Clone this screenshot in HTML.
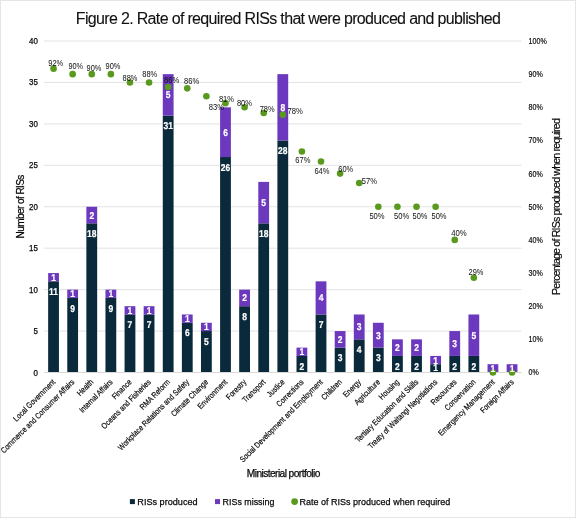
<!DOCTYPE html><html><head><meta charset="utf-8"><style>html,body{margin:0;padding:0;background:#fff;}svg{display:block;will-change:transform;}text{font-family:"Liberation Sans",sans-serif;} .g{text-rendering:geometricPrecision;stroke:#fff;stroke-width:0.2px;} .s{stroke:#000;stroke-width:0.25px;} .t{stroke:#000;stroke-width:0.18px;} .u{stroke:#000;stroke-width:0.08px;}</style></head><body>
<svg width="576" height="518" viewBox="0 0 576 518">
<rect x="0" y="0" width="576" height="518" fill="#fff"/>
<rect x="0.5" y="0.5" width="575" height="517" fill="none" stroke="#E6E5E3" stroke-width="1"/>
<text x="75.8" y="23.75" font-size="16" class="u" fill="#111" textLength="425" lengthAdjust="spacing">Figure 2. Rate of required RISs that were produced and published</text>
<rect x="44.0" y="372.00" width="477.60" height="1" fill="#D9D9D9"/>
<text x="37.9" y="375.50" font-size="8.4" text-anchor="end" class="s" fill="#0D0D0D" textLength="4.39" lengthAdjust="spacingAndGlyphs">0</text>
<rect x="44.0" y="330.56" width="477.60" height="1" fill="#E3E3E3"/>
<text x="37.9" y="334.06" font-size="8.4" text-anchor="end" class="s" fill="#0D0D0D" textLength="4.39" lengthAdjust="spacingAndGlyphs">5</text>
<rect x="44.0" y="289.12" width="477.60" height="1" fill="#E3E3E3"/>
<text x="37.9" y="292.62" font-size="8.4" text-anchor="end" class="s" fill="#0D0D0D" textLength="8.78" lengthAdjust="spacingAndGlyphs">10</text>
<rect x="44.0" y="247.69" width="477.60" height="1" fill="#E3E3E3"/>
<text x="37.9" y="251.19" font-size="8.4" text-anchor="end" class="s" fill="#0D0D0D" textLength="8.78" lengthAdjust="spacingAndGlyphs">15</text>
<rect x="44.0" y="206.25" width="477.60" height="1" fill="#E3E3E3"/>
<text x="37.9" y="209.75" font-size="8.4" text-anchor="end" class="s" fill="#0D0D0D" textLength="8.78" lengthAdjust="spacingAndGlyphs">20</text>
<rect x="44.0" y="164.81" width="477.60" height="1" fill="#E3E3E3"/>
<text x="37.9" y="168.31" font-size="8.4" text-anchor="end" class="s" fill="#0D0D0D" textLength="8.78" lengthAdjust="spacingAndGlyphs">25</text>
<rect x="44.0" y="123.38" width="477.60" height="1" fill="#E3E3E3"/>
<text x="37.9" y="126.88" font-size="8.4" text-anchor="end" class="s" fill="#0D0D0D" textLength="8.78" lengthAdjust="spacingAndGlyphs">30</text>
<rect x="44.0" y="81.94" width="477.60" height="1" fill="#E3E3E3"/>
<text x="37.9" y="85.44" font-size="8.4" text-anchor="end" class="s" fill="#0D0D0D" textLength="8.78" lengthAdjust="spacingAndGlyphs">35</text>
<rect x="44.0" y="40.50" width="477.60" height="1" fill="#E3E3E3"/>
<text x="37.9" y="44.00" font-size="8.4" text-anchor="end" class="s" fill="#0D0D0D" textLength="8.78" lengthAdjust="spacingAndGlyphs">40</text>
<text x="528.6" y="375.40" font-size="8.4" class="t" fill="#0D0D0D" textLength="10.26" lengthAdjust="spacingAndGlyphs">0%</text>
<text x="528.6" y="342.25" font-size="8.4" class="t" fill="#0D0D0D" textLength="14.21" lengthAdjust="spacingAndGlyphs">10%</text>
<text x="528.6" y="309.10" font-size="8.4" class="t" fill="#0D0D0D" textLength="14.21" lengthAdjust="spacingAndGlyphs">20%</text>
<text x="528.6" y="275.95" font-size="8.4" class="t" fill="#0D0D0D" textLength="14.21" lengthAdjust="spacingAndGlyphs">30%</text>
<text x="528.6" y="242.80" font-size="8.4" class="t" fill="#0D0D0D" textLength="14.21" lengthAdjust="spacingAndGlyphs">40%</text>
<text x="528.6" y="209.65" font-size="8.4" class="t" fill="#0D0D0D" textLength="14.21" lengthAdjust="spacingAndGlyphs">50%</text>
<text x="528.6" y="176.50" font-size="8.4" class="t" fill="#0D0D0D" textLength="14.21" lengthAdjust="spacingAndGlyphs">60%</text>
<text x="528.6" y="143.35" font-size="8.4" class="t" fill="#0D0D0D" textLength="14.21" lengthAdjust="spacingAndGlyphs">70%</text>
<text x="528.6" y="110.20" font-size="8.4" class="t" fill="#0D0D0D" textLength="14.21" lengthAdjust="spacingAndGlyphs">80%</text>
<text x="528.6" y="77.05" font-size="8.4" class="t" fill="#0D0D0D" textLength="14.21" lengthAdjust="spacingAndGlyphs">90%</text>
<text x="528.6" y="43.90" font-size="8.4" class="t" fill="#0D0D0D" textLength="18.16" lengthAdjust="spacingAndGlyphs">100%</text>
<rect x="48.15" y="281.34" width="10.8" height="90.66" fill="#0A2A3C"/>
<rect x="48.15" y="273.05" width="10.8" height="8.29" fill="#6C38BE"/>
<rect x="67.26" y="297.91" width="10.8" height="74.09" fill="#0A2A3C"/>
<rect x="67.26" y="289.62" width="10.8" height="8.29" fill="#6C38BE"/>
<rect x="86.36" y="223.33" width="10.8" height="148.67" fill="#0A2A3C"/>
<rect x="86.36" y="206.75" width="10.8" height="16.58" fill="#6C38BE"/>
<rect x="105.46" y="297.91" width="10.8" height="74.09" fill="#0A2A3C"/>
<rect x="105.46" y="289.62" width="10.8" height="8.29" fill="#6C38BE"/>
<rect x="124.57" y="314.49" width="10.8" height="57.51" fill="#0A2A3C"/>
<rect x="124.57" y="306.20" width="10.8" height="8.29" fill="#6C38BE"/>
<rect x="143.67" y="314.49" width="10.8" height="57.51" fill="#0A2A3C"/>
<rect x="143.67" y="306.20" width="10.8" height="8.29" fill="#6C38BE"/>
<rect x="162.78" y="115.59" width="10.8" height="256.41" fill="#0A2A3C"/>
<rect x="162.78" y="74.15" width="10.8" height="41.44" fill="#6C38BE"/>
<rect x="181.88" y="322.77" width="10.8" height="49.23" fill="#0A2A3C"/>
<rect x="181.88" y="314.49" width="10.8" height="8.29" fill="#6C38BE"/>
<rect x="200.98" y="331.06" width="10.8" height="40.94" fill="#0A2A3C"/>
<rect x="200.98" y="322.77" width="10.8" height="8.29" fill="#6C38BE"/>
<rect x="220.09" y="157.03" width="10.8" height="214.97" fill="#0A2A3C"/>
<rect x="220.09" y="107.30" width="10.8" height="49.72" fill="#6C38BE"/>
<rect x="239.19" y="306.20" width="10.8" height="65.80" fill="#0A2A3C"/>
<rect x="239.19" y="289.62" width="10.8" height="16.57" fill="#6C38BE"/>
<rect x="258.30" y="223.33" width="10.8" height="148.67" fill="#0A2A3C"/>
<rect x="258.30" y="181.89" width="10.8" height="41.44" fill="#6C38BE"/>
<rect x="277.40" y="140.45" width="10.8" height="231.55" fill="#0A2A3C"/>
<rect x="277.40" y="74.15" width="10.8" height="66.30" fill="#6C38BE"/>
<rect x="296.50" y="355.93" width="10.8" height="16.07" fill="#0A2A3C"/>
<rect x="296.50" y="347.64" width="10.8" height="8.29" fill="#6C38BE"/>
<rect x="315.61" y="314.49" width="10.8" height="57.51" fill="#0A2A3C"/>
<rect x="315.61" y="281.34" width="10.8" height="33.15" fill="#6C38BE"/>
<rect x="334.71" y="347.64" width="10.8" height="24.36" fill="#0A2A3C"/>
<rect x="334.71" y="331.06" width="10.8" height="16.57" fill="#6C38BE"/>
<rect x="353.82" y="339.35" width="10.8" height="32.65" fill="#0A2A3C"/>
<rect x="353.82" y="314.49" width="10.8" height="24.86" fill="#6C38BE"/>
<rect x="372.92" y="347.64" width="10.8" height="24.36" fill="#0A2A3C"/>
<rect x="372.92" y="322.77" width="10.8" height="24.86" fill="#6C38BE"/>
<rect x="392.02" y="355.93" width="10.8" height="16.07" fill="#0A2A3C"/>
<rect x="392.02" y="339.35" width="10.8" height="16.57" fill="#6C38BE"/>
<rect x="411.13" y="355.93" width="10.8" height="16.07" fill="#0A2A3C"/>
<rect x="411.13" y="339.35" width="10.8" height="16.57" fill="#6C38BE"/>
<rect x="430.23" y="364.21" width="10.8" height="7.79" fill="#0A2A3C"/>
<rect x="430.23" y="355.93" width="10.8" height="8.29" fill="#6C38BE"/>
<rect x="449.34" y="355.93" width="10.8" height="16.07" fill="#0A2A3C"/>
<rect x="449.34" y="331.06" width="10.8" height="24.86" fill="#6C38BE"/>
<rect x="468.44" y="355.93" width="10.8" height="16.07" fill="#0A2A3C"/>
<rect x="468.44" y="314.49" width="10.8" height="41.44" fill="#6C38BE"/>
<rect x="487.54" y="364.21" width="10.8" height="7.79" fill="#6C38BE"/>
<rect x="506.65" y="364.21" width="10.8" height="7.79" fill="#6C38BE"/>
<rect x="44.0" y="372.0" width="477.60" height="1" fill="#DCDAD6"/>
<circle cx="53.55" cy="68.63" r="3.3" fill="#599A1E"/>
<circle cx="72.66" cy="74.15" r="3.3" fill="#599A1E"/>
<circle cx="91.76" cy="74.15" r="3.3" fill="#599A1E"/>
<circle cx="110.86" cy="74.15" r="3.3" fill="#599A1E"/>
<circle cx="129.97" cy="82.44" r="3.3" fill="#599A1E"/>
<circle cx="149.07" cy="82.44" r="3.3" fill="#599A1E"/>
<circle cx="168.18" cy="87.04" r="3.3" fill="#599A1E"/>
<circle cx="187.28" cy="88.36" r="3.3" fill="#599A1E"/>
<circle cx="206.38" cy="96.25" r="3.3" fill="#599A1E"/>
<circle cx="225.49" cy="103.16" r="3.3" fill="#599A1E"/>
<circle cx="244.59" cy="107.30" r="3.3" fill="#599A1E"/>
<circle cx="263.70" cy="113.07" r="3.3" fill="#599A1E"/>
<circle cx="282.80" cy="114.67" r="3.3" fill="#599A1E"/>
<circle cx="301.90" cy="151.50" r="3.3" fill="#599A1E"/>
<circle cx="321.01" cy="161.55" r="3.3" fill="#599A1E"/>
<circle cx="340.11" cy="173.60" r="3.3" fill="#599A1E"/>
<circle cx="359.22" cy="183.07" r="3.3" fill="#599A1E"/>
<circle cx="378.32" cy="206.75" r="3.3" fill="#599A1E"/>
<circle cx="397.42" cy="206.75" r="3.3" fill="#599A1E"/>
<circle cx="416.53" cy="206.75" r="3.3" fill="#599A1E"/>
<circle cx="435.63" cy="206.75" r="3.3" fill="#599A1E"/>
<circle cx="454.74" cy="239.90" r="3.3" fill="#599A1E"/>
<circle cx="473.84" cy="277.79" r="3.3" fill="#599A1E"/>
<circle cx="492.94" cy="372.50" r="3.3" fill="#599A1E"/>
<circle cx="512.05" cy="372.50" r="3.3" fill="#599A1E"/>
<text x="0" y="0" transform="translate(53.55 294.94) scale(0.86 1)" font-size="9.9" font-weight="bold" class="g" text-anchor="middle" fill="#fff">11</text>
<text x="0" y="0" transform="translate(53.55 280.69) scale(0.86 1)" font-size="9.9" font-weight="bold" class="g" text-anchor="middle" fill="#fff">1</text>
<text x="0" y="0" transform="translate(72.66 311.51) scale(0.86 1)" font-size="9.9" font-weight="bold" class="g" text-anchor="middle" fill="#fff">9</text>
<text x="0" y="0" transform="translate(72.66 297.27) scale(0.86 1)" font-size="9.9" font-weight="bold" class="g" text-anchor="middle" fill="#fff">1</text>
<text x="0" y="0" transform="translate(91.76 236.93) scale(0.86 1)" font-size="9.9" font-weight="bold" class="g" text-anchor="middle" fill="#fff">18</text>
<text x="0" y="0" transform="translate(91.76 218.54) scale(0.86 1)" font-size="9.9" font-weight="bold" class="g" text-anchor="middle" fill="#fff">2</text>
<text x="0" y="0" transform="translate(110.86 311.51) scale(0.86 1)" font-size="9.9" font-weight="bold" class="g" text-anchor="middle" fill="#fff">9</text>
<text x="0" y="0" transform="translate(110.86 297.27) scale(0.86 1)" font-size="9.9" font-weight="bold" class="g" text-anchor="middle" fill="#fff">1</text>
<text x="0" y="0" transform="translate(129.97 328.09) scale(0.86 1)" font-size="9.9" font-weight="bold" class="g" text-anchor="middle" fill="#fff">7</text>
<text x="0" y="0" transform="translate(129.97 313.84) scale(0.86 1)" font-size="9.9" font-weight="bold" class="g" text-anchor="middle" fill="#fff">1</text>
<text x="0" y="0" transform="translate(149.07 328.09) scale(0.86 1)" font-size="9.9" font-weight="bold" class="g" text-anchor="middle" fill="#fff">7</text>
<text x="0" y="0" transform="translate(149.07 313.84) scale(0.86 1)" font-size="9.9" font-weight="bold" class="g" text-anchor="middle" fill="#fff">1</text>
<text x="0" y="0" transform="translate(168.18 129.19) scale(0.86 1)" font-size="9.9" font-weight="bold" class="g" text-anchor="middle" fill="#fff">31</text>
<text x="0" y="0" transform="translate(168.18 98.37) scale(0.86 1)" font-size="9.9" font-weight="bold" class="g" text-anchor="middle" fill="#fff">5</text>
<text x="0" y="0" transform="translate(187.28 336.38) scale(0.86 1)" font-size="9.9" font-weight="bold" class="g" text-anchor="middle" fill="#fff">6</text>
<text x="0" y="0" transform="translate(187.28 322.13) scale(0.86 1)" font-size="9.9" font-weight="bold" class="g" text-anchor="middle" fill="#fff">1</text>
<text x="0" y="0" transform="translate(206.38 344.66) scale(0.86 1)" font-size="9.9" font-weight="bold" class="g" text-anchor="middle" fill="#fff">5</text>
<text x="0" y="0" transform="translate(206.38 330.42) scale(0.86 1)" font-size="9.9" font-weight="bold" class="g" text-anchor="middle" fill="#fff">1</text>
<text x="0" y="0" transform="translate(225.49 170.62) scale(0.86 1)" font-size="9.9" font-weight="bold" class="g" text-anchor="middle" fill="#fff">26</text>
<text x="0" y="0" transform="translate(225.49 135.66) scale(0.86 1)" font-size="9.9" font-weight="bold" class="g" text-anchor="middle" fill="#fff">6</text>
<text x="0" y="0" transform="translate(244.59 319.80) scale(0.86 1)" font-size="9.9" font-weight="bold" class="g" text-anchor="middle" fill="#fff">8</text>
<text x="0" y="0" transform="translate(244.59 301.41) scale(0.86 1)" font-size="9.9" font-weight="bold" class="g" text-anchor="middle" fill="#fff">2</text>
<text x="0" y="0" transform="translate(263.70 236.93) scale(0.86 1)" font-size="9.9" font-weight="bold" class="g" text-anchor="middle" fill="#fff">18</text>
<text x="0" y="0" transform="translate(263.70 206.11) scale(0.86 1)" font-size="9.9" font-weight="bold" class="g" text-anchor="middle" fill="#fff">5</text>
<text x="0" y="0" transform="translate(282.80 154.05) scale(0.86 1)" font-size="9.9" font-weight="bold" class="g" text-anchor="middle" fill="#fff">28</text>
<text x="0" y="0" transform="translate(282.80 110.80) scale(0.86 1)" font-size="9.9" font-weight="bold" class="g" text-anchor="middle" fill="#fff">8</text>
<text x="0" y="0" transform="translate(301.90 369.53) scale(0.86 1)" font-size="9.9" font-weight="bold" class="g" text-anchor="middle" fill="#fff">2</text>
<text x="0" y="0" transform="translate(301.90 355.28) scale(0.86 1)" font-size="9.9" font-weight="bold" class="g" text-anchor="middle" fill="#fff">1</text>
<text x="0" y="0" transform="translate(321.01 328.09) scale(0.86 1)" font-size="9.9" font-weight="bold" class="g" text-anchor="middle" fill="#fff">7</text>
<text x="0" y="0" transform="translate(321.01 301.41) scale(0.86 1)" font-size="9.9" font-weight="bold" class="g" text-anchor="middle" fill="#fff">4</text>
<text x="0" y="0" transform="translate(340.11 361.24) scale(0.86 1)" font-size="9.9" font-weight="bold" class="g" text-anchor="middle" fill="#fff">3</text>
<text x="0" y="0" transform="translate(340.11 342.85) scale(0.86 1)" font-size="9.9" font-weight="bold" class="g" text-anchor="middle" fill="#fff">2</text>
<text x="0" y="0" transform="translate(359.22 352.95) scale(0.86 1)" font-size="9.9" font-weight="bold" class="g" text-anchor="middle" fill="#fff">4</text>
<text x="0" y="0" transform="translate(359.22 330.42) scale(0.86 1)" font-size="9.9" font-weight="bold" class="g" text-anchor="middle" fill="#fff">3</text>
<text x="0" y="0" transform="translate(378.32 361.24) scale(0.86 1)" font-size="9.9" font-weight="bold" class="g" text-anchor="middle" fill="#fff">3</text>
<text x="0" y="0" transform="translate(378.32 338.71) scale(0.86 1)" font-size="9.9" font-weight="bold" class="g" text-anchor="middle" fill="#fff">3</text>
<text x="0" y="0" transform="translate(397.42 369.53) scale(0.86 1)" font-size="9.9" font-weight="bold" class="g" text-anchor="middle" fill="#fff">2</text>
<text x="0" y="0" transform="translate(397.42 351.14) scale(0.86 1)" font-size="9.9" font-weight="bold" class="g" text-anchor="middle" fill="#fff">2</text>
<text x="0" y="0" transform="translate(416.53 369.53) scale(0.86 1)" font-size="9.9" font-weight="bold" class="g" text-anchor="middle" fill="#fff">2</text>
<text x="0" y="0" transform="translate(416.53 351.14) scale(0.86 1)" font-size="9.9" font-weight="bold" class="g" text-anchor="middle" fill="#fff">2</text>
<text x="0" y="0" transform="translate(435.63 371.46) scale(0.86 1)" font-size="9.9" font-weight="bold" class="g" text-anchor="middle" fill="#fff">1</text>
<text x="0" y="0" transform="translate(435.63 363.57) scale(0.86 1)" font-size="9.9" font-weight="bold" class="g" text-anchor="middle" fill="#fff">1</text>
<text x="0" y="0" transform="translate(454.74 369.53) scale(0.86 1)" font-size="9.9" font-weight="bold" class="g" text-anchor="middle" fill="#fff">2</text>
<text x="0" y="0" transform="translate(454.74 346.99) scale(0.86 1)" font-size="9.9" font-weight="bold" class="g" text-anchor="middle" fill="#fff">3</text>
<text x="0" y="0" transform="translate(473.84 369.53) scale(0.86 1)" font-size="9.9" font-weight="bold" class="g" text-anchor="middle" fill="#fff">2</text>
<text x="0" y="0" transform="translate(473.84 338.71) scale(0.86 1)" font-size="9.9" font-weight="bold" class="g" text-anchor="middle" fill="#fff">5</text>
<text x="0" y="0" transform="translate(492.94 371.86) scale(0.86 1)" font-size="9.9" font-weight="bold" class="g" text-anchor="middle" fill="#fff">1</text>
<text x="0" y="0" transform="translate(512.05 371.86) scale(0.86 1)" font-size="9.9" font-weight="bold" class="g" text-anchor="middle" fill="#fff">1</text>
<text x="48.30" y="65.50" font-size="8.9" fill="#0D0D0D" textLength="14.90" lengthAdjust="spacingAndGlyphs">92%</text>
<text x="68.45" y="69.40" font-size="8.9" fill="#0D0D0D" textLength="14.65" lengthAdjust="spacingAndGlyphs">90%</text>
<text x="86.60" y="71.10" font-size="8.9" fill="#0D0D0D" textLength="14.80" lengthAdjust="spacingAndGlyphs">90%</text>
<text x="105.50" y="69.10" font-size="8.9" fill="#0D0D0D" textLength="14.90" lengthAdjust="spacingAndGlyphs">90%</text>
<text x="122.60" y="80.90" font-size="8.9" fill="#0D0D0D" textLength="14.90" lengthAdjust="spacingAndGlyphs">88%</text>
<text x="142.30" y="76.50" font-size="8.9" fill="#0D0D0D" textLength="14.90" lengthAdjust="spacingAndGlyphs">88%</text>
<text x="164.00" y="83.00" font-size="8.9" fill="#0D0D0D" textLength="15.20" lengthAdjust="spacingAndGlyphs">86%</text>
<text x="184.10" y="83.70" font-size="8.9" fill="#0D0D0D" textLength="15.10" lengthAdjust="spacingAndGlyphs">86%</text>
<text x="208.70" y="109.80" font-size="8.9" fill="#0D0D0D" textLength="15.20" lengthAdjust="spacingAndGlyphs">83%</text>
<text x="218.90" y="101.50" font-size="8.9" fill="#0D0D0D" textLength="15.15" lengthAdjust="spacingAndGlyphs">81%</text>
<text x="236.90" y="105.70" font-size="8.9" fill="#0D0D0D" textLength="15.20" lengthAdjust="spacingAndGlyphs">80%</text>
<text x="259.70" y="111.80" font-size="8.9" fill="#0D0D0D" textLength="14.90" lengthAdjust="spacingAndGlyphs">78%</text>
<text x="287.50" y="114.30" font-size="8.9" fill="#0D0D0D" textLength="15.30" lengthAdjust="spacingAndGlyphs">78%</text>
<text x="295.30" y="162.70" font-size="8.9" fill="#0D0D0D" textLength="15.10" lengthAdjust="spacingAndGlyphs">67%</text>
<text x="314.40" y="174.10" font-size="8.9" fill="#0D0D0D" textLength="15.10" lengthAdjust="spacingAndGlyphs">64%</text>
<text x="338.30" y="172.30" font-size="8.9" fill="#0D0D0D" textLength="14.90" lengthAdjust="spacingAndGlyphs">60%</text>
<text x="361.85" y="184.00" font-size="8.9" fill="#0D0D0D" textLength="15.15" lengthAdjust="spacingAndGlyphs">57%</text>
<text x="369.40" y="219.40" font-size="8.9" fill="#0D0D0D" textLength="15.20" lengthAdjust="spacingAndGlyphs">50%</text>
<text x="394.10" y="219.40" font-size="8.9" fill="#0D0D0D" textLength="15.20" lengthAdjust="spacingAndGlyphs">50%</text>
<text x="412.50" y="219.40" font-size="8.9" fill="#0D0D0D" textLength="14.90" lengthAdjust="spacingAndGlyphs">50%</text>
<text x="431.50" y="219.10" font-size="8.9" fill="#0D0D0D" textLength="15.05" lengthAdjust="spacingAndGlyphs">50%</text>
<text x="451.20" y="236.35" font-size="8.9" fill="#0D0D0D" textLength="15.50" lengthAdjust="spacingAndGlyphs">40%</text>
<text x="468.60" y="275.20" font-size="8.9" fill="#0D0D0D" textLength="14.90" lengthAdjust="spacingAndGlyphs">29%</text>
<text x="55.85" y="382.60" font-size="8.1" text-anchor="end" class="t" fill="#0D0D0D" transform="rotate(-45 55.85 382.60)" textLength="55.60" lengthAdjust="spacingAndGlyphs">Local Government</text>
<text x="74.96" y="382.60" font-size="8.1" text-anchor="end" class="t" fill="#0D0D0D" transform="rotate(-45 74.96 382.60)" textLength="100.46" lengthAdjust="spacingAndGlyphs">Commerce and Consumer Affairs</text>
<text x="94.06" y="382.60" font-size="8.1" text-anchor="end" class="t" fill="#0D0D0D" transform="rotate(-45 94.06 382.60)" textLength="19.67" lengthAdjust="spacingAndGlyphs">Health</text>
<text x="113.16" y="382.60" font-size="8.1" text-anchor="end" class="t" fill="#0D0D0D" transform="rotate(-45 113.16 382.60)" textLength="43.37" lengthAdjust="spacingAndGlyphs">Internal Affairs</text>
<text x="132.27" y="382.60" font-size="8.1" text-anchor="end" class="t" fill="#0D0D0D" transform="rotate(-45 132.27 382.60)" textLength="24.21" lengthAdjust="spacingAndGlyphs">Finance</text>
<text x="151.37" y="382.60" font-size="8.1" text-anchor="end" class="t" fill="#0D0D0D" transform="rotate(-45 151.37 382.60)" textLength="66.18" lengthAdjust="spacingAndGlyphs">Oceans and Fisheries</text>
<text x="170.48" y="382.60" font-size="8.1" text-anchor="end" class="t" fill="#0D0D0D" transform="rotate(-45 170.48 382.60)" textLength="38.94" lengthAdjust="spacingAndGlyphs">RMA Reform</text>
<text x="189.58" y="382.60" font-size="8.1" text-anchor="end" class="t" fill="#0D0D0D" transform="rotate(-45 189.58 382.60)" textLength="96.69" lengthAdjust="spacingAndGlyphs">Workplace Relations and Safety</text>
<text x="208.68" y="382.60" font-size="8.1" text-anchor="end" class="t" fill="#0D0D0D" transform="rotate(-45 208.68 382.60)" textLength="48.79" lengthAdjust="spacingAndGlyphs">Climate Change</text>
<text x="227.79" y="382.60" font-size="8.1" text-anchor="end" class="t" fill="#0D0D0D" transform="rotate(-45 227.79 382.60)" textLength="38.20" lengthAdjust="spacingAndGlyphs">Environment</text>
<text x="246.89" y="382.60" font-size="8.1" text-anchor="end" class="t" fill="#0D0D0D" transform="rotate(-45 246.89 382.60)" textLength="24.95" lengthAdjust="spacingAndGlyphs">Forestry</text>
<text x="266.00" y="382.60" font-size="8.1" text-anchor="end" class="t" fill="#0D0D0D" transform="rotate(-45 266.00 382.60)" textLength="28.86" lengthAdjust="spacingAndGlyphs">Transport</text>
<text x="285.10" y="382.60" font-size="8.1" text-anchor="end" class="t" fill="#0D0D0D" transform="rotate(-45 285.10 382.60)" textLength="21.18" lengthAdjust="spacingAndGlyphs">Justice</text>
<text x="304.20" y="382.60" font-size="8.1" text-anchor="end" class="t" fill="#0D0D0D" transform="rotate(-45 304.20 382.60)" textLength="34.79" lengthAdjust="spacingAndGlyphs">Corrections</text>
<text x="323.31" y="382.60" font-size="8.1" text-anchor="end" class="t" fill="#0D0D0D" transform="rotate(-45 323.31 382.60)" textLength="113.46" lengthAdjust="spacingAndGlyphs">Social Development and Employment</text>
<text x="342.41" y="382.60" font-size="8.1" text-anchor="end" class="t" fill="#0D0D0D" transform="rotate(-45 342.41 382.60)" textLength="25.34" lengthAdjust="spacingAndGlyphs">Children</text>
<text x="361.52" y="382.60" font-size="8.1" text-anchor="end" class="t" fill="#0D0D0D" transform="rotate(-45 361.52 382.60)" textLength="21.56" lengthAdjust="spacingAndGlyphs">Energy</text>
<text x="380.62" y="382.60" font-size="8.1" text-anchor="end" class="t" fill="#0D0D0D" transform="rotate(-45 380.62 382.60)" textLength="32.52" lengthAdjust="spacingAndGlyphs">Agriculture</text>
<text x="399.72" y="382.60" font-size="8.1" text-anchor="end" class="t" fill="#0D0D0D" transform="rotate(-45 399.72 382.60)" textLength="24.96" lengthAdjust="spacingAndGlyphs">Housing</text>
<text x="418.83" y="382.60" font-size="8.1" text-anchor="end" class="t" fill="#0D0D0D" transform="rotate(-45 418.83 382.60)" textLength="85.47" lengthAdjust="spacingAndGlyphs">Tertiary Education and Skills</text>
<text x="437.93" y="382.60" font-size="8.1" text-anchor="end" class="t" fill="#0D0D0D" transform="rotate(-45 437.93 382.60)" textLength="94.42" lengthAdjust="spacingAndGlyphs">Treaty of Waitangi Negotiations</text>
<text x="457.04" y="382.60" font-size="8.1" text-anchor="end" class="t" fill="#0D0D0D" transform="rotate(-45 457.04 382.60)" textLength="32.52" lengthAdjust="spacingAndGlyphs">Resources</text>
<text x="476.14" y="382.60" font-size="8.1" text-anchor="end" class="t" fill="#0D0D0D" transform="rotate(-45 476.14 382.60)" textLength="40.09" lengthAdjust="spacingAndGlyphs">Conservation</text>
<text x="495.24" y="382.60" font-size="8.1" text-anchor="end" class="t" fill="#0D0D0D" transform="rotate(-45 495.24 382.60)" textLength="76.02" lengthAdjust="spacingAndGlyphs">Emergency Management</text>
<text x="514.35" y="382.60" font-size="8.1" text-anchor="end" class="t" fill="#0D0D0D" transform="rotate(-45 514.35 382.60)" textLength="43.74" lengthAdjust="spacingAndGlyphs">Foreign Affairs</text>
<text x="0" y="0" font-size="10.1" class="s" fill="#0D0D0D" transform="translate(24.2 238.4) rotate(-90)" textLength="63.8" lengthAdjust="spacing">Number of RISs</text>
<text x="0" y="0" font-size="10.6" class="t" fill="#0D0D0D" transform="translate(559.9 294.9) rotate(-90)" textLength="176.7" lengthAdjust="spacing">Percentage of RISs produced when required</text>
<text x="246.8" y="477.0" font-size="10.2" class="s" fill="#0D0D0D" textLength="73.5" lengthAdjust="spacing">Ministerial portfolio</text>
<rect x="129.9" y="499.1" width="5" height="5" fill="#0A2A3C"/>
<text x="137.3" y="505.2" font-size="9.9" class="s" fill="#0D0D0D" textLength="60.3" lengthAdjust="spacingAndGlyphs">RISs produced</text>
<rect x="215.0" y="499.1" width="5" height="5" fill="#6C38BE"/>
<text x="222.6" y="505.2" font-size="9.9" class="s" fill="#0D0D0D" textLength="51.8" lengthAdjust="spacingAndGlyphs">RISs missing</text>
<circle cx="294.6" cy="501.6" r="3.35" fill="#599A1E"/>
<text x="299.4" y="505.2" font-size="9.9" class="s" fill="#0D0D0D" textLength="150.9" lengthAdjust="spacingAndGlyphs">Rate of RISs produced when required</text>
</svg></body></html>
